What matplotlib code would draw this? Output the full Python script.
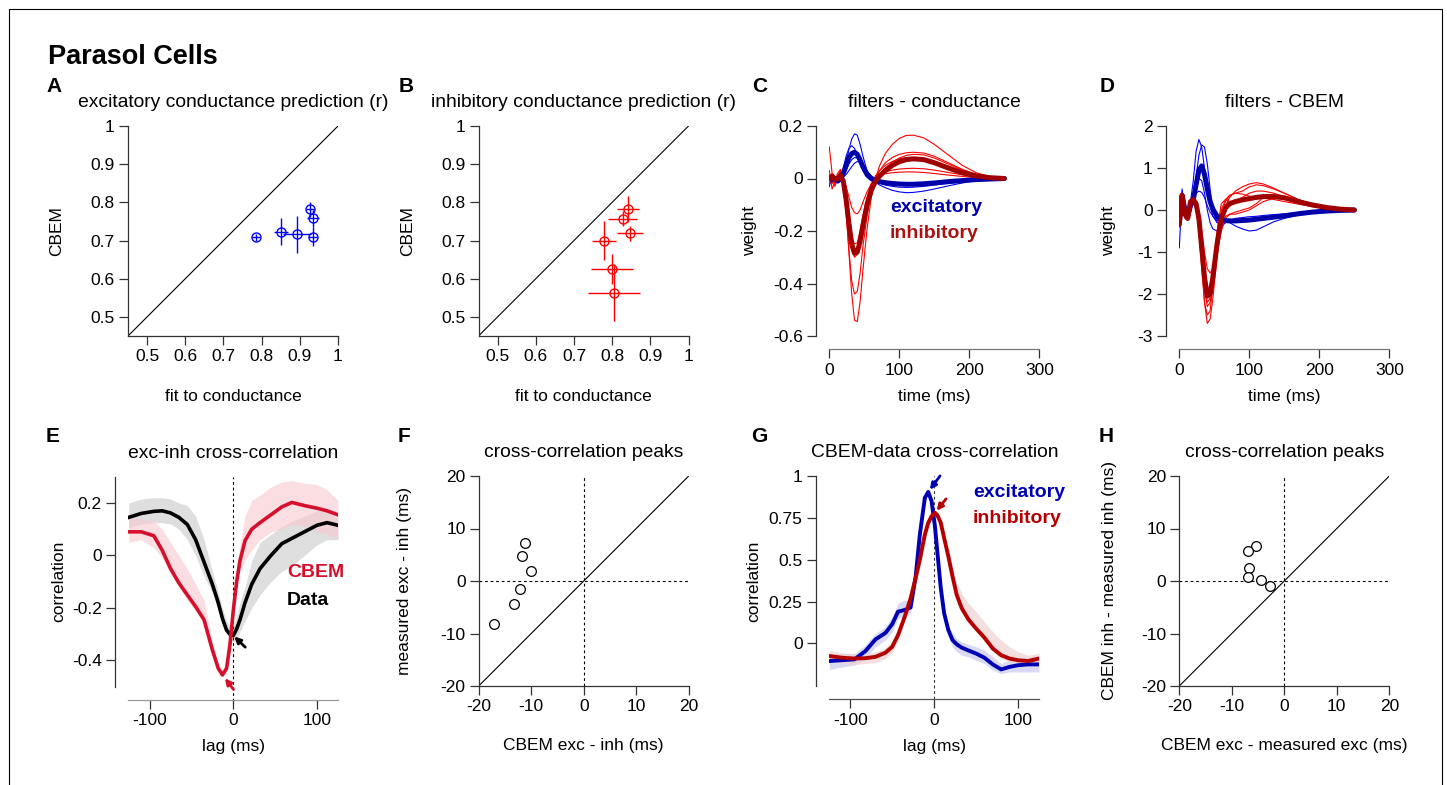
import matplotlib
matplotlib.use('Agg')
import matplotlib.pyplot as plt
from matplotlib.lines import Line2D
from matplotlib.ticker import FuncFormatter

plt.rcParams['font.family'] = ['Liberation Sans', 'DejaVu Sans']
plt.rcParams['axes.unicode_minus'] = False
plt.rcParams['font.size'] = 12.5

# ---------------- data ----------------
# A: excitatory conductance prediction (r)
exc_fit = [0.785, 0.851, 0.892, 0.927, 0.934, 0.934]
exc_fit_err = [0.010, 0.019, 0.037, 0.010, 0.016, 0.012]
exc_cbem = [0.708, 0.723, 0.716, 0.782, 0.758, 0.710]
exc_cbem_err = [0.010, 0.035, 0.048, 0.020, 0.022, 0.025]

# B: inhibitory conductance prediction (r)
inh_fit = [0.842, 0.828, 0.847, 0.778, 0.800, 0.804]
inh_fit_err = [0.029, 0.038, 0.033, 0.032, 0.055, 0.068]
inh_cbem = [0.783, 0.757, 0.719, 0.700, 0.625, 0.563]
inh_cbem_err = [0.034, 0.020, 0.020, 0.050, 0.040, 0.075]

# C/D: filters, time axis (ms)
filt_t = [0, 4, 8, 12, 16, 20, 24, 28, 32, 36,
          40, 44, 48, 54, 60, 66, 72, 80, 90, 100,
          110, 120, 135, 150, 170, 190, 210, 230, 250]

cond_exc_mean = [0.0, -0.005, 0.0, -0.01, 0.0, 0.02, 0.05, 0.08, 0.095, 0.1,
                 0.092, 0.07, 0.045, 0.015, 0.0, -0.008, -0.012, -0.016, -0.019, -0.021,
                 -0.022, -0.022, -0.02, -0.017, -0.012, -0.008, -0.004, -0.002, 0.0]
cond_inh_mean = [0.0, 0.01, -0.005, 0.0, 0.012, -0.01, -0.08, -0.17, -0.25, -0.285,
                 -0.28, -0.24, -0.18, -0.1, -0.045, -0.01, 0.01, 0.03, 0.05, 0.064,
                 0.072, 0.075, 0.072, 0.06, 0.04, 0.022, 0.01, 0.003, 0.0]
cond_exc_cells = [
    [-0.02, 0.0, -0.01, 0.0, -0.005, 0.02, 0.06, 0.11, 0.15, 0.17,
     0.165, 0.13, 0.085, 0.03, 0.0, -0.015, -0.025, -0.035, -0.045, -0.051,
     -0.054, -0.053, -0.048, -0.04, -0.028, -0.017, -0.008, -0.003, 0.0],
    [-0.03, 0.01, -0.005, 0.005, 0.01, 0.04, 0.085, 0.115, 0.125, 0.115,
     0.09, 0.06, 0.03, 0.005, -0.008, -0.012, -0.015, -0.018, -0.02, -0.02,
     -0.02, -0.019, -0.017, -0.014, -0.01, -0.006, -0.003, -0.001, 0.0],
    [0.0, -0.005, 0.005, -0.005, 0.0, 0.01, 0.03, 0.055, 0.072, 0.08,
     0.078, 0.062, 0.04, 0.015, 0.0, -0.01, -0.018, -0.025, -0.03, -0.033,
     -0.034, -0.033, -0.03, -0.025, -0.018, -0.011, -0.006, -0.002, 0.0],
    [0.0, 0.0, -0.005, 0.0, 0.0, 0.005, 0.015, 0.03, 0.045, 0.058,
     0.065, 0.062, 0.05, 0.028, 0.01, -0.002, -0.01, -0.016, -0.02, -0.022,
     -0.023, -0.022, -0.02, -0.016, -0.011, -0.007, -0.003, -0.001, 0.0],
    [0.01, -0.01, 0.0, -0.01, 0.005, 0.025, 0.055, 0.085, 0.1, 0.105,
     0.098, 0.075, 0.048, 0.018, 0.002, -0.008, -0.013, -0.017, -0.019, -0.02,
     -0.02, -0.019, -0.016, -0.013, -0.009, -0.005, -0.002, -0.001, 0.0],
]
cond_inh_cells = [
    [0.12, 0.02, -0.03, 0.0, 0.03, -0.02, -0.12, -0.28, -0.44, -0.54,
     -0.545, -0.47, -0.35, -0.19, -0.07, 0.0, 0.05, 0.095, 0.13, 0.153,
     0.164, 0.165, 0.155, 0.13, 0.09, 0.05, 0.022, 0.006, 0.0],
    [0.03, -0.04, -0.01, 0.02, 0.035, -0.03, -0.13, -0.27, -0.39, -0.44,
     -0.43, -0.36, -0.26, -0.14, -0.05, 0.0, 0.03, 0.06, 0.08, 0.092,
     0.098, 0.1, 0.097, 0.085, 0.06, 0.035, 0.016, 0.005, 0.0],
    [0.0, 0.01, -0.02, 0.0, 0.02, 0.0, -0.03, -0.07, -0.11, -0.13,
     -0.135, -0.12, -0.09, -0.05, -0.02, 0.0, 0.01, 0.018, 0.022, 0.024,
     0.025, 0.025, 0.023, 0.019, 0.013, 0.008, 0.004, 0.001, 0.0],
    [-0.02, 0.0, 0.01, -0.01, 0.02, -0.02, -0.09, -0.19, -0.27, -0.3,
     -0.29, -0.24, -0.17, -0.09, -0.03, 0.0, 0.015, 0.025, 0.032, 0.036,
     0.038, 0.039, 0.037, 0.032, 0.023, 0.014, 0.007, 0.002, 0.0],
    [0.01, -0.02, 0.0, 0.01, 0.0, -0.02, -0.08, -0.17, -0.24, -0.27,
     -0.265, -0.22, -0.16, -0.09, -0.04, -0.008, 0.015, 0.04, 0.062, 0.078,
     0.088, 0.092, 0.09, 0.078, 0.055, 0.032, 0.015, 0.005, 0.0],
    [0.0, 0.01, -0.01, 0.005, 0.03, 0.0, -0.06, -0.15, -0.22, -0.25,
     -0.245, -0.2, -0.14, -0.07, -0.02, 0.01, 0.03, 0.05, 0.065, 0.075,
     0.08, 0.08, 0.076, 0.066, 0.047, 0.028, 0.013, 0.004, 0.0],
]

cbem_exc_mean = [-0.3, 0.35, 0.0, -0.15, 0.1, 0.25, 0.6, 0.95, 1.05, 0.85,
                 0.5, 0.2, 0.02, -0.15, -0.22, -0.25, -0.26, -0.26, -0.25, -0.24,
                 -0.22, -0.2, -0.17, -0.14, -0.09, -0.05, -0.025, -0.01, 0.0]
cbem_inh_mean = [-0.35, 0.35, -0.1, -0.2, 0.2, 0.25, 0.15, -0.2, -0.9, -1.6,
                 -2.05, -2.0, -1.6, -0.8, -0.2, 0.05, 0.15, 0.2, 0.24, 0.27,
                 0.3, 0.32, 0.32, 0.29, 0.2, 0.12, 0.06, 0.02, 0.0]
cbem_exc_cells = [
    [-0.9, 0.4, -0.1, -0.2, 0.2, 0.7, 1.4, 1.68, 1.5, 1.0,
     0.5, 0.1, -0.15, -0.3, -0.32, -0.3, -0.28, -0.26, -0.24, -0.22,
     -0.2, -0.18, -0.15, -0.12, -0.08, -0.05, -0.025, -0.01, 0.0],
    [-0.2, 0.5, 0.0, -0.2, 0.1, 0.3, 0.8, 1.3, 1.55, 1.5,
     1.1, 0.5, 0.0, -0.3, -0.3, -0.25, -0.25, -0.25, -0.25, -0.25,
     -0.22, -0.2, -0.16, -0.12, -0.08, -0.05, -0.025, -0.01, 0.0],
    [-0.1, 0.3, 0.0, -0.1, 0.1, 0.3, 0.55, 0.75, 0.7, 0.4,
     0.0, -0.3, -0.45, -0.5, -0.4, -0.3, -0.25, -0.2, -0.18, -0.16,
     -0.15, -0.13, -0.11, -0.09, -0.06, -0.04, -0.02, -0.01, 0.0],
    [0.0, 0.3, 0.05, -0.1, 0.1, 0.25, 0.4, 0.45, 0.42, 0.3,
     0.1, -0.05, -0.15, -0.25, -0.3, -0.28, -0.3, -0.38, -0.45, -0.5,
     -0.48, -0.4, -0.28, -0.2, -0.12, -0.07, -0.035, -0.012, 0.0],
    [-0.3, 0.35, 0.0, -0.15, 0.05, 0.2, 0.5, 0.8, 1.0, 0.95,
     0.7, 0.35, 0.05, -0.2, -0.3, -0.3, -0.29, -0.28, -0.27, -0.26,
     -0.24, -0.21, -0.17, -0.13, -0.09, -0.05, -0.025, -0.01, 0.0],
]
cbem_inh_cells = [
    [-0.4, 0.3, -0.2, -0.25, 0.2, 0.2, 0.1, -0.3, -1.2, -2.2,
     -2.7, -2.6, -2.1, -1.1, -0.3, 0.1, 0.3, 0.45, 0.55, 0.62,
     0.65, 0.62, 0.52, 0.4, 0.25, 0.13, 0.06, 0.02, 0.0],
    [-0.3, 0.4, -0.1, -0.2, 0.25, 0.2, 0.0, -0.5, -1.4, -2.2,
     -2.5, -2.4, -1.8, -0.8, -0.1, 0.2, 0.35, 0.4, 0.45, 0.55,
     0.6, 0.58, 0.5, 0.4, 0.25, 0.13, 0.06, 0.02, 0.0],
    [-0.2, 0.3, -0.1, -0.2, 0.2, 0.2, 0.05, -0.4, -1.2, -1.9,
     -2.3, -2.2, -1.8, -1.0, -0.4, -0.15, -0.1, -0.1, -0.05, 0.0,
     0.1, 0.2, 0.28, 0.28, 0.22, 0.13, 0.06, 0.02, 0.0],
    [-0.3, 0.35, -0.15, -0.2, 0.15, 0.2, 0.1, -0.1, -0.5, -1.0,
     -1.4, -1.5, -1.4, -1.0, -0.5, -0.2, -0.1, -0.05, 0.0, 0.05,
     0.15, 0.3, 0.35, 0.33, 0.24, 0.14, 0.07, 0.02, 0.0],
    [-0.4, 0.3, -0.15, -0.25, 0.25, 0.3, 0.2, -0.2, -1.0, -1.8,
     -2.2, -2.1, -1.5, -0.5, 0.15, 0.25, 0.2, 0.22, 0.3, 0.4,
     0.45, 0.45, 0.4, 0.32, 0.2, 0.11, 0.05, 0.02, 0.0],
    [-0.3, 0.3, -0.1, -0.2, 0.2, 0.25, 0.15, -0.2, -0.9, -1.6,
     -2.0, -1.9, -1.4, -0.6, 0.0, 0.25, 0.35, 0.4, 0.38, 0.33,
     0.3, 0.28, 0.25, 0.2, 0.14, 0.08, 0.04, 0.01, 0.0],
]

# E: exc-inh cross-correlation
e_lag = [-125, -110, -95, -85, -75, -65, -55, -45, -35, -25,
         -18, -13, -8, -4, 0, 4, 8, 14, 22, 32,
         45, 58, 70, 85, 100, 112, 125]
e_data = [0.145, 0.16, 0.168, 0.17, 0.162, 0.145, 0.118, 0.06, -0.025, -0.11,
          -0.18, -0.24, -0.285, -0.3, -0.305, -0.28, -0.245, -0.18, -0.11, -0.05,
          0.0, 0.045, 0.065, 0.09, 0.115, 0.125, 0.115]
e_data_lo = [0.105, 0.12, 0.125, 0.125, 0.12, 0.1, 0.06, 0.0, -0.08, -0.14,
             -0.21, -0.26, -0.3, -0.32, -0.33, -0.32, -0.29, -0.25, -0.2, -0.15,
             -0.1, -0.06, -0.04, 0.0, 0.04, 0.06, 0.06]
e_data_hi = [0.2, 0.215, 0.22, 0.22, 0.215, 0.2, 0.19, 0.15, 0.06, -0.06,
             -0.14, -0.2, -0.25, -0.27, -0.27, -0.23, -0.18, -0.12, -0.02, 0.05,
             0.08, 0.11, 0.13, 0.15, 0.17, 0.17, 0.14]
e_cbem = [0.09, 0.09, 0.075, 0.02, -0.05, -0.105, -0.15, -0.195, -0.245, -0.36,
          -0.43, -0.455, -0.43, -0.34, -0.21, -0.1, -0.02, 0.056, 0.1, 0.125,
          0.155, 0.185, 0.202, 0.19, 0.18, 0.17, 0.155]
e_cbem_lo = [0.05, 0.06, 0.03, -0.01, -0.07, -0.12, -0.17, -0.21, -0.26, -0.38,
             -0.44, -0.465, -0.44, -0.35, -0.23, -0.13, -0.06, -0.02, 0.02, 0.06,
             0.09, 0.1, 0.12, 0.11, 0.09, 0.08, 0.065]
e_cbem_hi = [0.145, 0.14, 0.13, 0.1, 0.05, 0.0, -0.05, -0.11, -0.17, -0.33,
             -0.41, -0.44, -0.41, -0.32, -0.18, -0.05, 0.04, 0.15, 0.21, 0.23,
             0.26, 0.28, 0.285, 0.275, 0.27, 0.25, 0.21]

# F: cross-correlation peaks
f_cbem = [-11.2, -11.7, -10.1, -12.1, -13.3, -17.1]
f_measured = [7.2, 4.8, 2.0, -1.6, -4.4, -8.2]

# G: CBEM-data cross-correlation
g_lag = [-125, -110, -95, -82, -70, -58, -50, -43, -35, -28,
         -22, -17, -11, -7, -3, 1, 4, 8, 12, 17,
         22, 27, 33, 41, 50, 60, 70, 80, 90, 100,
         112, 125]
g_exc = [-0.105, -0.1, -0.095, -0.046, 0.024, 0.063, 0.115, 0.19, 0.2, 0.215,
         0.4, 0.65, 0.87, 0.905, 0.85, 0.7, 0.54, 0.33, 0.18, 0.08,
         0.02, -0.005, -0.025, -0.042, -0.06, -0.085, -0.125, -0.155, -0.14, -0.13,
         -0.125, -0.125]
g_exc_lo = [-0.155, -0.14, -0.13, -0.09, -0.02, 0.02, 0.07, 0.15, 0.16, 0.18,
            0.37, 0.62, 0.85, 0.89, 0.83, 0.68, 0.52, 0.31, 0.15, 0.04,
            -0.02, -0.05, -0.07, -0.08, -0.1, -0.12, -0.16, -0.18, -0.17, -0.17,
            -0.17, -0.17]
g_exc_hi = [-0.06, -0.06, -0.06, -0.01, 0.06, 0.1, 0.16, 0.24, 0.26, 0.25,
            0.43, 0.68, 0.89, 0.92, 0.87, 0.72, 0.56, 0.35, 0.21, 0.11,
            0.06, 0.03, 0.01, -0.005, -0.02, -0.04, -0.08, -0.12, -0.1, -0.09,
            -0.08, -0.08]
g_inh = [-0.075, -0.085, -0.09, -0.088, -0.08, -0.055, -0.02, 0.05, 0.16, 0.27,
         0.39, 0.5, 0.65, 0.72, 0.76, 0.78, 0.765, 0.72, 0.63, 0.52,
         0.4, 0.29, 0.21, 0.143, 0.09, 0.035, -0.03, -0.07, -0.09, -0.1,
         -0.105, -0.09]
g_inh_lo = [-0.11, -0.12, -0.125, -0.12, -0.115, -0.09, -0.055, 0.02, 0.13, 0.24,
            0.36, 0.47, 0.62, 0.7, 0.74, 0.76, 0.745, 0.7, 0.61, 0.5,
            0.38, 0.27, 0.19, 0.12, 0.07, 0.015, -0.05, -0.09, -0.11, -0.12,
            -0.125, -0.11]
g_inh_hi = [-0.04, -0.055, -0.06, -0.06, -0.05, -0.025, 0.01, 0.08, 0.19, 0.3,
            0.42, 0.53, 0.68, 0.74, 0.78, 0.8, 0.785, 0.74, 0.66, 0.56,
            0.45, 0.36, 0.3, 0.24, 0.19, 0.13, 0.07, 0.02, -0.02, -0.05,
            -0.07, -0.06]

# H: cross-correlation peaks
h_exc = [-5.4, -6.9, -6.7, -6.9, -4.4, -2.7]
h_inh = [6.7, 5.8, 2.5, 0.7, 0.1, -0.9]

# ---------------- drawing ----------------
W, H = 1447, 785
fig = plt.figure(figsize=(W / 100, H / 100), dpi=100)

BLUE = '#0000ff'
RED = '#ff0000'
DBLUE = '#0000aa'
DRED = '#a00000'
CRIMSON = '#d6102c'
GBLUE = '#0000b4'
GRED = '#b40000'
TITLE_SIZE = 13.9


def add_axes_px(left, top, size=210):
    return fig.add_axes([left / W, 1 - (top + size) / H, size / W, size / H])


def style(ax, offset=0, bottom_color='#333333'):
    ax.patch.set_visible(False)
    for s in ['top', 'right']:
        ax.spines[s].set_visible(False)
    ax.spines['left'].set_color('#333333')
    ax.spines['bottom'].set_color(bottom_color)
    for s in ['left', 'bottom']:
        ax.spines[s].set_linewidth(0.9)
        if offset:
            ax.spines[s].set_position(('outward', offset))
    ax.tick_params(direction='out', length=6.5, width=0.9, color='#333333',
                   pad=3, labelsize=12.5)
    fmt = FuncFormatter(lambda v, p: '%g' % round(v, 6))
    ax.xaxis.set_major_formatter(fmt)
    ax.yaxis.set_major_formatter(fmt)


def labels(ax, title, xlabel, ylabel, xl_y, yl_x):
    ax.text(0.5, 1.11, title, transform=ax.transAxes, ha='center',
            va='center', fontsize=TITLE_SIZE)
    ax.set_xlabel(xlabel, fontsize=12.5)
    ax.xaxis.set_label_coords(0.5, xl_y)
    ax.xaxis.label.set_va('center')
    ax.set_ylabel(ylabel, fontsize=12.5)
    ax.yaxis.set_label_coords(yl_x, 0.5)
    ax.yaxis.label.set_va('center')


def scatter_panel(ax, x, y, xerr, yerr, color, title):
    style(ax)
    ax.plot([0.45, 1], [0.45, 1], color='k', lw=0.8)
    ax.errorbar(x, y, xerr=xerr, yerr=yerr, fmt='o', color=color, mfc='none',
                mec=color, ms=6.5, mew=1.0, elinewidth=1.0, capsize=0)
    ax.set_xlim(0.45, 1)
    ax.set_ylim(0.45, 1)
    ticks = [0.5, 0.6, 0.7, 0.8, 0.9, 1.0]
    ax.set_xticks(ticks)
    ax.set_yticks(ticks)
    labels(ax, title, 'fit to conductance', 'CBEM', -0.286, -0.338)


def peaks_panel(ax, x, y, title, xlabel, ylabel, yl_x):
    style(ax)
    ax.plot([-20, 20], [-20, 20], color='k', lw=0.8)
    ax.axhline(0, color='k', lw=0.8, ls=(0, (2.5, 2.5)))
    ax.axvline(0, color='k', lw=0.8, ls=(0, (2.5, 2.5)))
    ax.plot(x, y, 'o', mfc='white', mec='k', ms=7, mew=0.9)
    ax.set_xlim(-20, 20)
    ax.set_ylim(-20, 20)
    ax.set_xticks([-20, -10, 0, 10, 20])
    ax.set_yticks([-20, -10, 0, 10, 20])
    labels(ax, title, xlabel, ylabel, -0.281, yl_x)


def filter_panel(ax, exc_cells, inh_cells, exc_mean, inh_mean):
    style(ax, offset=9.7, bottom_color='#777777')
    for c in exc_cells:
        ax.plot(filt_t, c, color=BLUE, lw=0.8)
    for c in inh_cells:
        ax.plot(filt_t, c, color=RED, lw=0.8)
    ax.plot(filt_t, exc_mean, color=DBLUE, lw=3.6, solid_capstyle='round')
    ax.plot(filt_t, inh_mean, color=DRED, lw=3.6, solid_capstyle='round')
    ax.set_xlim(0, 300)
    ax.set_xticks([0, 100, 200, 300])


# A
axA = add_axes_px(128, 126)
scatter_panel(axA, exc_fit, exc_cbem, exc_fit_err, exc_cbem_err, BLUE,
              'excitatory conductance prediction (r)')
# B
axB = add_axes_px(478.5, 126)
scatter_panel(axB, inh_fit, inh_cbem, inh_fit_err, inh_cbem_err, RED,
              'inhibitory conductance prediction (r)')

# C
axC = add_axes_px(829.3, 126)
filter_panel(axC, cond_exc_cells, cond_inh_cells, cond_exc_mean, cond_inh_mean)
axC.set_ylim(-0.6, 0.2)
axC.set_yticks([-0.6, -0.4, -0.2, 0, 0.2])
labels(axC, 'filters - conductance', 'time (ms)', 'weight', -0.289, -0.382)
axC.text(86.7, -0.109, 'excitatory', color=DBLUE, fontsize=14,
         fontweight='bold', va='center', ha='left')
axC.text(86.7, -0.208, 'inhibitory', color='#aa1111', fontsize=14,
         fontweight='bold', va='center', ha='left')

# D
axD = add_axes_px(1179.3, 126)
filter_panel(axD, cbem_exc_cells, cbem_inh_cells, cbem_exc_mean, cbem_inh_mean)
axD.set_ylim(-3, 2)
axD.set_yticks([-3, -2, -1, 0, 1, 2])
labels(axD, 'filters - CBEM', 'time (ms)', 'weight', -0.289, -0.335)

# E
axE = add_axes_px(128.3, 476.7)
style(axE, offset=9.7, bottom_color='#999999')
axE.fill_between(e_lag, e_data_lo, e_data_hi, color='#d9d9d9', lw=0, alpha=0.85)
axE.fill_between(e_lag, e_cbem_lo, e_cbem_hi, color='#f9c9d0', lw=0, alpha=0.6)
axE.axvline(0, ymin=-0.066, ymax=1, color='k', lw=0.8, ls=(0, (2.5, 2.5)),
            clip_on=False)
axE.plot(e_lag, e_data, color='k', lw=2.6)
axE.plot(e_lag, e_cbem, color=CRIMSON, lw=2.6)
axE.set_xlim(-125.5, 125.5)
axE.set_ylim(-0.5, 0.3)
axE.set_xticks([-100, 0, 100])
axE.set_yticks([-0.4, -0.2, 0, 0.2])
labels(axE, 'exc-inh cross-correlation', 'lag (ms)', 'correlation', -0.286, -0.333)
axE.text(64.3, -0.065, 'CBEM', color=CRIMSON, fontsize=14, fontweight='bold',
         va='center', ha='left')
axE.text(64.3, -0.171, 'Data', color='k', fontsize=14, fontweight='bold',
         va='center', ha='left')
i_d = e_data.index(min(e_data))
axE.annotate('', xy=(e_lag[i_d], e_data[i_d]), xytext=(8.6, -8.4),
             textcoords='offset points', annotation_clip=False,
             arrowprops=dict(arrowstyle='-|>', color='k', lw=2,
                             mutation_scale=9, shrinkA=0, shrinkB=1))
i_c = e_cbem.index(min(e_cbem))
axE.annotate('', xy=(e_lag[i_c], e_cbem[i_c]), xytext=(8, -10.5),
             textcoords='offset points', annotation_clip=False,
             arrowprops=dict(arrowstyle='-|>', color=CRIMSON, lw=2,
                             mutation_scale=9, shrinkA=0, shrinkB=3))

# F
axF = add_axes_px(478.7, 476)
peaks_panel(axF, f_cbem, f_measured, 'cross-correlation peaks',
            'CBEM exc - inh (ms)', 'measured exc - inh (ms)', -0.351)

# G
axG = add_axes_px(829.3, 476)
style(axG, offset=9.7, bottom_color='#555555')
axG.fill_between(g_lag, g_exc_lo, g_exc_hi, color='#d0d0f0', lw=0, alpha=0.8)
axG.fill_between(g_lag, g_inh_lo, g_inh_hi, color='#f0d2d2', lw=0, alpha=0.7)
axG.axvline(0, ymin=-0.064, ymax=1, color='#333333', lw=0.8,
            ls=(0, (2.5, 2.5)), clip_on=False)
axG.plot(g_lag, g_exc, color=GBLUE, lw=2.8)
axG.plot(g_lag, g_inh, color=GRED, lw=2.8)
axG.set_xlim(-125, 125.5)
axG.set_ylim(-0.254, 1.0)
axG.set_xticks([-100, 0, 100])
axG.set_yticks([0, 0.25, 0.5, 0.75, 1])
labels(axG, 'CBEM-data cross-correlation', 'lag (ms)', 'correlation', -0.286, -0.362)
axG.text(46.5, 0.899, 'excitatory', color=GBLUE, fontsize=14, fontweight='bold',
         va='center', ha='left')
axG.text(46.5, 0.744, 'inhibitory', color=GRED, fontsize=14, fontweight='bold',
         va='center', ha='left')
i_e = g_exc.index(max(g_exc))
axG.annotate('', xy=(g_lag[i_e], g_exc[i_e]), xytext=(8.5, 11.5),
             textcoords='offset points', annotation_clip=False,
             arrowprops=dict(arrowstyle='-|>', color=GBLUE, lw=2,
                             mutation_scale=9, shrinkA=0, shrinkB=2))
i_i = g_inh.index(max(g_inh))
axG.annotate('', xy=(g_lag[i_i], g_inh[i_i]), xytext=(8, 10),
             textcoords='offset points', annotation_clip=False,
             arrowprops=dict(arrowstyle='-|>', color=GRED, lw=2,
                             mutation_scale=9, shrinkA=0, shrinkB=2))

# H
axH = add_axes_px(1179.3, 476)
peaks_panel(axH, h_exc, h_inh, 'cross-correlation peaks',
            'CBEM exc - measured exc (ms)', 'CBEM inh - measured inh (ms)', -0.333)

# header, panel letters, page frame
fig.text(48 / W, 1 - 57 / H, 'Parasol Cells', fontsize=19.5, fontweight='bold',
         va='center', ha='left')
for letter, x, y in [('A', 46, 86), ('B', 399, 86), ('C', 752, 86), ('D', 1100, 86),
                     ('E', 46, 437), ('F', 398, 437), ('G', 751, 437), ('H', 1099, 437)]:
    fig.text(x / W, 1 - y / H, letter, fontsize=15, fontweight='bold',
             va='center', ha='left')

fig.add_artist(Line2D([9 / W, 9 / W, 1441.5 / W, 1441.5 / W],
                      [0, 1 - 9 / H, 1 - 9 / H, 0], color='k', lw=0.8))

fig.savefig('out.png', dpi=100)
